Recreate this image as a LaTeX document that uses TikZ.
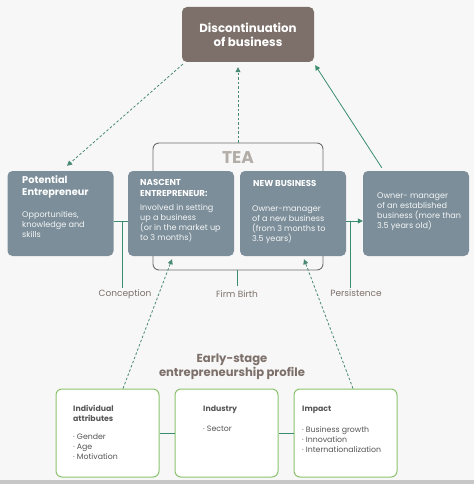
\documentclass[tikz,border=0pt]{standalone}
\usepackage{fontspec}
\setmainfont{Poppins}
\usetikzlibrary{arrows.meta}
\definecolor{boxgray}{HTML}{7B8E99}
\definecolor{discbrown}{HTML}{7D706A}
\definecolor{linkgreen}{HTML}{3A8C6E}
\definecolor{profgreen}{HTML}{8CC36E}
\definecolor{teagray}{HTML}{B3ADA8}
\definecolor{framegray}{HTML}{6E6E6E}
\definecolor{txtgray}{HTML}{555555}
\begin{document}
\begin{tikzpicture}[x=1pt,y=-1pt,
  bluebox/.style={rectangle, rounded corners=5pt, fill=boxgray, minimum width=106pt, minimum height=85pt, inner sep=0pt},
  profbox/.style={rectangle, rounded corners=6pt, draw=profgreen, line width=1pt, fill=white, minimum width=103pt, minimum height=88pt, inner sep=0pt},
  headtxt/.style={anchor=north west, inner sep=0pt, align=left, text=white, font=\fontsize{9.8}{12}\selectfont\bfseries},
  bodytxt/.style={anchor=north west, inner sep=0pt, align=left, text=white!92!boxgray, font=\fontsize{8.1}{10}\selectfont},
  proftxt/.style={anchor=north west, inner sep=0pt, align=left, text=txtgray, font=\fontsize{7.8}{10}\selectfont},
  lbl/.style={inner sep=0pt, text=discbrown, font=\fontsize{9}{10}\selectfont},
  link/.style={draw=linkgreen, line width=0.8pt},
  dasharrow/.style={draw=linkgreen!80!gray, line width=0.8pt, dash pattern=on 2.5pt off 2pt, -{Triangle[length=5pt,width=5pt]}},
  solidarrow/.style={draw=linkgreen, line width=0.8pt, -{Triangle[length=5pt,width=5pt]}}
]
% background
\fill[black!3] (0,0) rectangle (474,484);
\fill[black!22] (0,480) rectangle (474,484);

% top box
\node[rectangle, rounded corners=5pt, fill=discbrown, minimum width=132pt, minimum height=55pt, text=white, align=center,
  font=\fontsize{11.8}{14}\selectfont\bfseries] (disc) at (248,34.5) {Discontinuation\\of business};

% TEA frame
\node[rectangle, rounded corners=6pt, draw=framegray, line width=0.9pt, minimum width=170pt, minimum height=127pt] (tea) at (238,206.5) {};
\node[text=teagray, font=\fontsize{17}{18}\selectfont\bfseries, inner sep=0pt] (tealbl) at (238,158) {TEA};

% stage boxes
\node[bluebox] (pot) at (60.5,213.5) {};
\node[bluebox] (nas) at (181,213.5) {};
\node[bluebox] (newb) at (293,213.5) {};
\node[bluebox] (own) at (416,213.5) {};

\node[headtxt] (pothead) at (22,175) {Potential\\Entrepreneur};
\node[bodytxt] (potbody) at (22,211) {Opportunities,\\knowledge and\\skills};
\node[headtxt, font=\fontsize{8.6}{11}\selectfont\bfseries] (nashead) at (140,179) {NASCENT\\ENTREPRENEUR:};
\node[bodytxt] (nasbody) at (140,204) {Involved in setting\\up a business\\(or in the market up\\to 3 months)};
\node[headtxt, font=\fontsize{8.6}{11}\selectfont\bfseries] (newbhead) at (253,180) {NEW BUSINESS};
\node[bodytxt] (newbbody) at (252,206) {Owner-manager\\of a new business\\(from 3 months to\\3.5 years)};
\node[bodytxt] (ownbody) at (377,193) {Owner- manager\\of an established\\business (more than\\3.5 years old)};

% labels under the stages
\node[lbl] (concl) at (125,294) {Conception};
\node[lbl] (firml) at (237,294) {Firm Birth};
\node[lbl] (persl) at (356,293) {Persistence};

% links between stages
\draw[link] ([yshift=-7.5pt]pot.east) -- ([yshift=-7.5pt]nas.west);
\coordinate (conc) at (122,221);
\draw[link] (conc) -- (122,288);
\draw[link] (firml.north |- tea.south) -- ([yshift=4pt]firml.north);
\draw[solidarrow] ([yshift=-7.5pt]newb.east) -- ([yshift=-7.5pt]own.west);
\coordinate (pers) at (350,221);
\draw[link] (pers) -- (350,288);

% arrows to the top box
\draw[dasharrow] ([xshift=1pt,yshift=-2pt]disc.south west) -- ([xshift=6.5pt,yshift=5pt]pot.north);
\draw[dasharrow] (tealbl.north |- tea.north) -- ([yshift=-5pt]tealbl.north |- disc.south);
\draw[solidarrow] ([xshift=19pt,yshift=3pt]own.north west) -- ([xshift=1pt,yshift=-3pt]disc.south east);

% profile
\node[text=discbrown, align=center, font=\fontsize{11.6}{14}\selectfont\bfseries, inner sep=0pt] (proftitle) at (232,367) {Early-stage\\entrepreneurship profile};
\node[profbox] (ind) at (107.5,433) {};
\node[profbox] (indu) at (226.5,433) {};
\node[profbox] (imp) at (345.5,433) {};
\draw[link] (ind.east) -- (indu.west);
\draw[link] (indu.east) -- (imp.west);

\node[proftxt, font=\fontsize{7.8}{10}\selectfont\bfseries] (indhead) at (73,405) {Individual\\attributes};
\node[proftxt] (indbody) at (73,434) {· Gender\\· Age\\· Motivation};
\node[proftxt, font=\fontsize{7.8}{10}\selectfont\bfseries] (induhead) at (203,406) {Industry};
\node[proftxt] (indubody) at (203,426) {· Sector};
\node[proftxt, font=\fontsize{7.8}{10}\selectfont\bfseries] (imphead) at (302,406) {Impact};
\node[proftxt] (impbody) at (302,426) {· Business growth\\· Innovation\\· Internationalization};

\draw[dasharrow] ([xshift=15.5pt]ind.north) -- ([xshift=-9pt,yshift=-3pt]nas.south);
\draw[dasharrow] ([xshift=7.5pt]imp.north) -- ([xshift=11pt,yshift=-3pt]newb.south);
\end{tikzpicture}
\end{document}
